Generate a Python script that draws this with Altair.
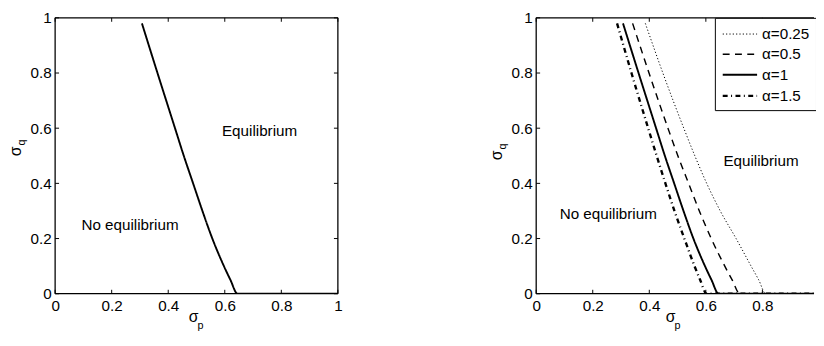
import altair as alt
import pandas as pd

# ---- data ----
ticks = [0, 0.2, 0.4, 0.6, 0.8, 1.0]
ticks_right = [0, 0.2, 0.4, 0.6, 0.8]

y_levels = [0.98, 0.8, 0.6, 0.5, 0.4, 0.3, 0.2, 0.1, 0.05, 0.0]
x_a025 = [0.386, 0.448, 0.522, 0.561, 0.603, 0.651, 0.707, 0.760, 0.787, 0.812]
x_a05 = [0.341, 0.399, 0.466, 0.501, 0.539, 0.577, 0.619, 0.667, 0.693, 0.720]
x_a1 = [0.307, 0.362, 0.424, 0.455, 0.488, 0.521, 0.556, 0.597, 0.620, 0.645]
x_a15 = [0.286, 0.337, 0.396, 0.426, 0.457, 0.489, 0.524, 0.560, 0.580, 0.603]
tail_x = 1.0

series_labels = ["α=0.25", "α=0.5", "α=1", "α=1.5"]
series_x = [x_a025, x_a05, x_a1, x_a15]

annot_left = pd.DataFrame({"x": [0.59, 0.093], "y": [0.59, 0.25],
                           "t": ["Equilibrium", "No equilibrium"]})
annot_right = pd.DataFrame({"x": [0.662, 0.083], "y": [0.48, 0.287],
                            "t": ["Equilibrium", "No equilibrium"]})

FONT = "Liberation Sans"
FS = 15.5
W_L, W_R, H = 288, 283, 281
XMAX_R = W_R / W_L


def curve_df(labels, xs):
    rows = []
    for lab, xv in zip(labels, xs):
        for i, (xx, yy) in enumerate(zip(xv, y_levels)):
            rows.append({"s": lab, "x": xx, "y": yy, "o": i})
        rows.append({"s": lab, "x": tail_x, "y": 0.0, "o": len(xv)})
    return pd.DataFrame(rows)


def panel(width, xmax, tick_vals, curves, annots, legend, tpos):
    xs = alt.Scale(domain=[0, xmax], nice=False, zero=False)
    ys = alt.Scale(domain=[0, 1], nice=False, zero=False)
    tdf = pd.DataFrame({"v": tick_vals})
    ydf = pd.DataFrame({"v": ticks})

    base_x = alt.Axis(values=tick_vals, format="~g", domain=False, ticks=False,
                      grid=False, labelFont=FONT, labelFontSize=FS, labelColor="black",
                      labelPadding=5, title=None, labelFlush=False)
    base_y = alt.Axis(values=ticks, format="~g", domain=False, ticks=False,
                      grid=False, labelFont=FONT, labelFontSize=FS, labelColor="black",
                      labelPadding=4, title=None, labelFlush=False)

    xtick_b = alt.Chart(tdf).mark_rule(color="black", strokeWidth=1).encode(
        x=alt.X("v:Q", scale=xs, axis=base_x), y=alt.value(H), y2=alt.value(H - 4))
    xtick_t = alt.Chart(tdf).mark_rule(color="black", strokeWidth=1).encode(
        x=alt.X("v:Q", scale=xs), y=alt.value(0), y2=alt.value(4))
    ytick_l = alt.Chart(ydf).mark_rule(color="black", strokeWidth=1).encode(
        y=alt.Y("v:Q", scale=ys, axis=base_y), x=alt.value(0), x2=alt.value(4))
    layers = [xtick_b, xtick_t, ytick_l]
    if xmax >= 1:
        ytick_r = alt.Chart(ydf).mark_rule(color="black", strokeWidth=1).encode(
            y=alt.Y("v:Q", scale=ys), x=alt.value(width), x2=alt.value(width - 4))
        layers.append(ytick_r)

    fr = pd.DataFrame({"a": [0]})
    frame = [
        alt.Chart(fr).mark_rule(color="black", strokeWidth=1.3).encode(
            x=alt.value(0), x2=alt.value(width), y=alt.value(0)),
        alt.Chart(fr).mark_rule(color="black", strokeWidth=1.3).encode(
            x=alt.value(0), x2=alt.value(width), y=alt.value(H)),
        alt.Chart(fr).mark_rule(color="black", strokeWidth=1.3).encode(
            x=alt.value(0), y=alt.value(0), y2=alt.value(H)),
    ]
    if xmax >= 1:
        frame.append(alt.Chart(fr).mark_rule(color="black", strokeWidth=1.3).encode(
            x=alt.value(width), y=alt.value(0), y2=alt.value(H)))
    layers += frame

    dom = series_labels
    if legend:
        leg = alt.Legend(orient="none", legendX=182, legendY=0, title=None,
                         strokeColor="black", fillColor="white", padding=6,
                         labelFont=FONT, labelFontSize=FS, labelColor="black",
                         symbolType="M-1.75,0H1.75", symbolSize=400,
                         symbolStrokeColor="black", symbolFillColor="transparent",
                         symbolOffset=8, rowPadding=1, labelOffset=11, cornerRadius=0)
    else:
        leg = None
    line = alt.Chart(curves).mark_line(clip=True, color="black",
                                       interpolate="monotone").encode(
        x=alt.X("x:Q", scale=xs),
        y=alt.Y("y:Q", scale=ys),
        order="o:Q",
        strokeDash=alt.StrokeDash("s:N", scale=alt.Scale(
            domain=dom, range=[[1.2, 2.2], [7, 5.5], [1, 0], [5, 3.5, 1, 3.5]]), legend=leg),
        strokeWidth=alt.StrokeWidth("s:N", scale=alt.Scale(
            domain=dom, range=[1.0, 2.4, 2, 1.6]), legend=leg),
    )
    layers.append(line)

    txt = alt.Chart(annots).mark_text(font=FONT, fontSize=15.5, align="left",
                                      baseline="middle", color="black").encode(
        x=alt.X("x:Q", scale=xs), y=alt.Y("y:Q", scale=ys), text="t:N")
    layers.append(txt)

    sx, sy, qx, qy, px_, py_ = tpos
    tt = pd.DataFrame({"a": [0]})
    layers += [
        alt.Chart(tt).mark_text(text="σ", font=FONT, fontSize=16, color="black",
                                baseline="middle", align="center").encode(
            x=alt.value(px_), y=alt.value(py_)),
        alt.Chart(tt).mark_text(text="p", font=FONT, fontSize=11, color="black",
                                baseline="middle", align="center").encode(
            x=alt.value(px_ + 7), y=alt.value(py_ + 9)),
        alt.Chart(tt).mark_text(text="σ", font=FONT, fontSize=16, color="black",
                                baseline="middle", align="center", angle=270).encode(
            x=alt.value(sx), y=alt.value(sy)),
        alt.Chart(tt).mark_text(text="q", font=FONT, fontSize=11, color="black",
                                baseline="middle", align="center", angle=270).encode(
            x=alt.value(qx), y=alt.value(qy)),
    ]
    return alt.layer(*layers).properties(width=width, height=H)


left_curves = curve_df(["α=1"], [x_a1])
right_curves = curve_df(series_labels, series_x)

left = panel(W_L, 1.0, ticks, left_curves, annot_left, legend=False,
             tpos=(-40, 136, -34, 127, 141, H + 24))
right = panel(W_R, XMAX_R, ticks_right, right_curves, annot_right, legend=True,
              tpos=(-40, 140, -34, 131, 137, H + 24))

chart = alt.hconcat(left, right, spacing=149).resolve_scale(
    strokeDash="independent", strokeWidth="independent"
).properties(padding={"left": 0, "top": 0, "right": -1, "bottom": 0}).configure_view(stroke=None)

chart.save("out.html", embed_options={"renderer": "svg", "actions": False})
